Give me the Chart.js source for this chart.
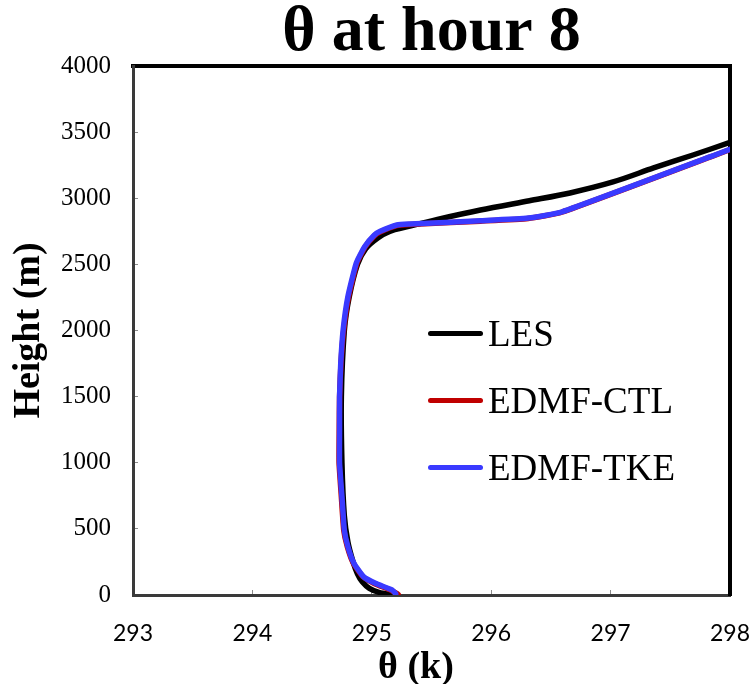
<!DOCTYPE html>
<html>
<head>
<meta charset="utf-8">
<script src="https://cdn.jsdelivr.net/npm/chart.js@4.4.1/dist/chart.umd.min.js"></script>
<style>
    body { margin: 0; background: #fff; }
    #contenedor { position: relative; width: 752px; height: 684px; }
    #leyenda { position: absolute; left: 428px; top: 300px; font-family: 'Liberation Serif', serif; font-size: 37px; color: #000; }
    .fila { display: flex; align-items: center; height: 67px; }
    .linea { width: 55px; height: 5px; border-radius: 3px; margin-right: 5px; }
    #titulo-x { position: absolute; left: 0; top: 646px; width: 832px; text-align: center; font-family: 'Liberation Serif', serif; font-weight: bold; font-size: 38px; line-height: 38px; color: #000; }
</style>
</head>
<body>
<div id="contenedor">
    <canvas id="myChart" width="752" height="684"></canvas>
    <div id="leyenda"></div>
    <div id="titulo-x">θ (k)</div>
</div>
<script>
const series = ['LES', 'EDMF-CTL', 'EDMF-TKE'];
const colores = ['#000000', '#c00000', '#3a3aff'];

// theta (K) y altura (m)
const lesTheta = [295.18, 295.06, 294.98, 294.92, 294.88, 294.84, 294.80, 294.77, 294.75, 294.745, 294.77, 294.81, 294.88, 294.95, 295.05, 295.15, 295.30, 295.55, 295.91, 296.32, 296.66, 297.02, 297.36, 297.69, 298.0];
const lesAltura = [0, 20, 50, 100, 160, 260, 400, 600, 1000, 1500, 2000, 2250, 2500, 2620, 2700, 2750, 2785, 2840, 2911, 2981, 3040, 3123, 3229, 3327, 3422];

const ctlTheta = [295.22, 295.16, 295.02, 294.925, 294.845, 294.795, 294.765, 294.745, 294.726, 294.727, 294.73, 294.742, 294.765, 294.806, 294.876, 294.945, 295.02, 295.07, 295.21, 295.32, 295.91, 296.31, 296.59, 298.0];
const ctlAltura = [5, 36, 87, 139, 240, 365, 491, 743, 998, 1248, 1500, 1754, 2004, 2256, 2510, 2634, 2715, 2745, 2793, 2802, 2827, 2847, 2894, 3368];

const tkeTheta = [295.20, 295.17, 295.03, 294.93, 294.85, 294.80, 294.77, 294.75, 294.73, 294.73, 294.73, 294.74, 294.76, 294.80, 294.87, 294.94, 295.02, 295.07, 295.21, 295.32, 295.91, 296.31, 296.59, 298.0];
const tkeAltura = [10, 38, 88, 139, 240, 365, 491, 743, 998, 1248, 1500, 1754, 2004, 2256, 2510, 2634, 2720, 2750, 2798, 2805, 2830, 2850, 2896, 3370];

const xMin = 293, xMax = 298, xPaso = 1;
const yMin = 0, yMax = 4000, yPaso = 500;

function puntos(thetas, alturas) {
    return thetas.map((t, i) => ({ x: t, y: alturas[i] }));
}

const datos = [puntos(lesTheta, lesAltura), puntos(ctlTheta, ctlAltura), puntos(tkeTheta, tkeAltura)];
const suavizado = [0.3, 0.15, 0.15];

const serif = "'Liberation Serif', 'Times New Roman', serif";

// quitar el relleno automatico que agrega Chart.js por las etiquetas
function ajustarAlto(alto) {
    return (s) => {
        s.height = alto;
        s.paddingLeft = 0;
        s.paddingRight = 0;
    };
}

const ctx = document.getElementById('myChart');

const grafica = new Chart(ctx, {
    type: 'line',
    data: {
        datasets: series.map((nombre, i) => ({
            label: nombre,
            data: datos[i],
            borderColor: colores[i],
            backgroundColor: colores[i],
            borderWidth: 5.5,
            pointRadius: 0,
            tension: suavizado[i],
            borderCapStyle: 'round',
            borderJoinStyle: 'round',
            order: 3 - i
        }))
    },
    options: {
        responsive: false,
        animation: false,
        layout: { padding: { left: 0, right: 22, top: 0, bottom: 0 } },
        plugins: {
            legend: { display: false },
            title: { display: false },
            tooltip: { enabled: false }
        },
        scales: {
            x: {
                type: 'linear',
                position: 'bottom',
                min: xMin,
                max: xMax,
                ticks: { stepSize: xPaso, padding: 30, color: '#000', font: { family: 'Lato', size: 23 }, callback: (v) => String(v) },
                grid: { drawOnChartArea: false, drawTicks: true, tickLength: -5, color: '#8c8c8c', lineWidth: 1 },
                border: { color: '#3a3a3a', width: 3 },
                title: { display: false },
                afterFit: ajustarAlto(89)
            },
            x2: {
                type: 'linear',
                position: 'top',
                min: xMin,
                max: xMax,
                ticks: { display: false },
                grid: { display: false },
                border: { color: '#000', width: 4 },
                title: { display: true, text: 'θ at hour 8', color: '#000', font: { family: serif, size: 64, weight: 'bold', lineHeight: 1 }, padding: { top: 1, bottom: 0 } },
                afterFit: ajustarAlto(66)
            },
            y: {
                type: 'linear',
                position: 'left',
                min: yMin,
                max: yMax,
                ticks: { stepSize: yPaso, padding: 27, color: '#000', font: { family: serif, size: 25 }, callback: (v) => String(v) },
                grid: { drawOnChartArea: false, drawTicks: true, tickLength: -5, color: '#8c8c8c', lineWidth: 1 },
                border: { color: '#3a3a3a', width: 3 },
                title: { display: true, text: 'Height (m)', color: '#000', font: { family: serif, size: 38, weight: 'bold', lineHeight: 1 }, padding: { top: 10, bottom: 0 } },
                afterFit: (s) => { s.width = 133; }
            },
            y2: {
                type: 'linear',
                position: 'right',
                min: yMin,
                max: yMax,
                ticks: { display: false },
                grid: { display: false },
                border: { color: '#000', width: 4 },
                afterFit: (s) => { s.width = 0; }
            }
        }
    }
});

// leyenda en HTML a partir de los datasets
const leyenda = document.querySelector('#leyenda');
grafica.data.datasets.forEach(ds => {
    const fila = document.createElement('div');
    fila.classList.add('fila');
    const linea = document.createElement('span');
    linea.classList.add('linea');
    linea.style.backgroundColor = ds.borderColor;
    const texto = document.createElement('span');
    texto.textContent = ds.label;
    fila.appendChild(linea);
    fila.appendChild(texto);
    leyenda.appendChild(fila);
});
</script>
</body>
</html>
